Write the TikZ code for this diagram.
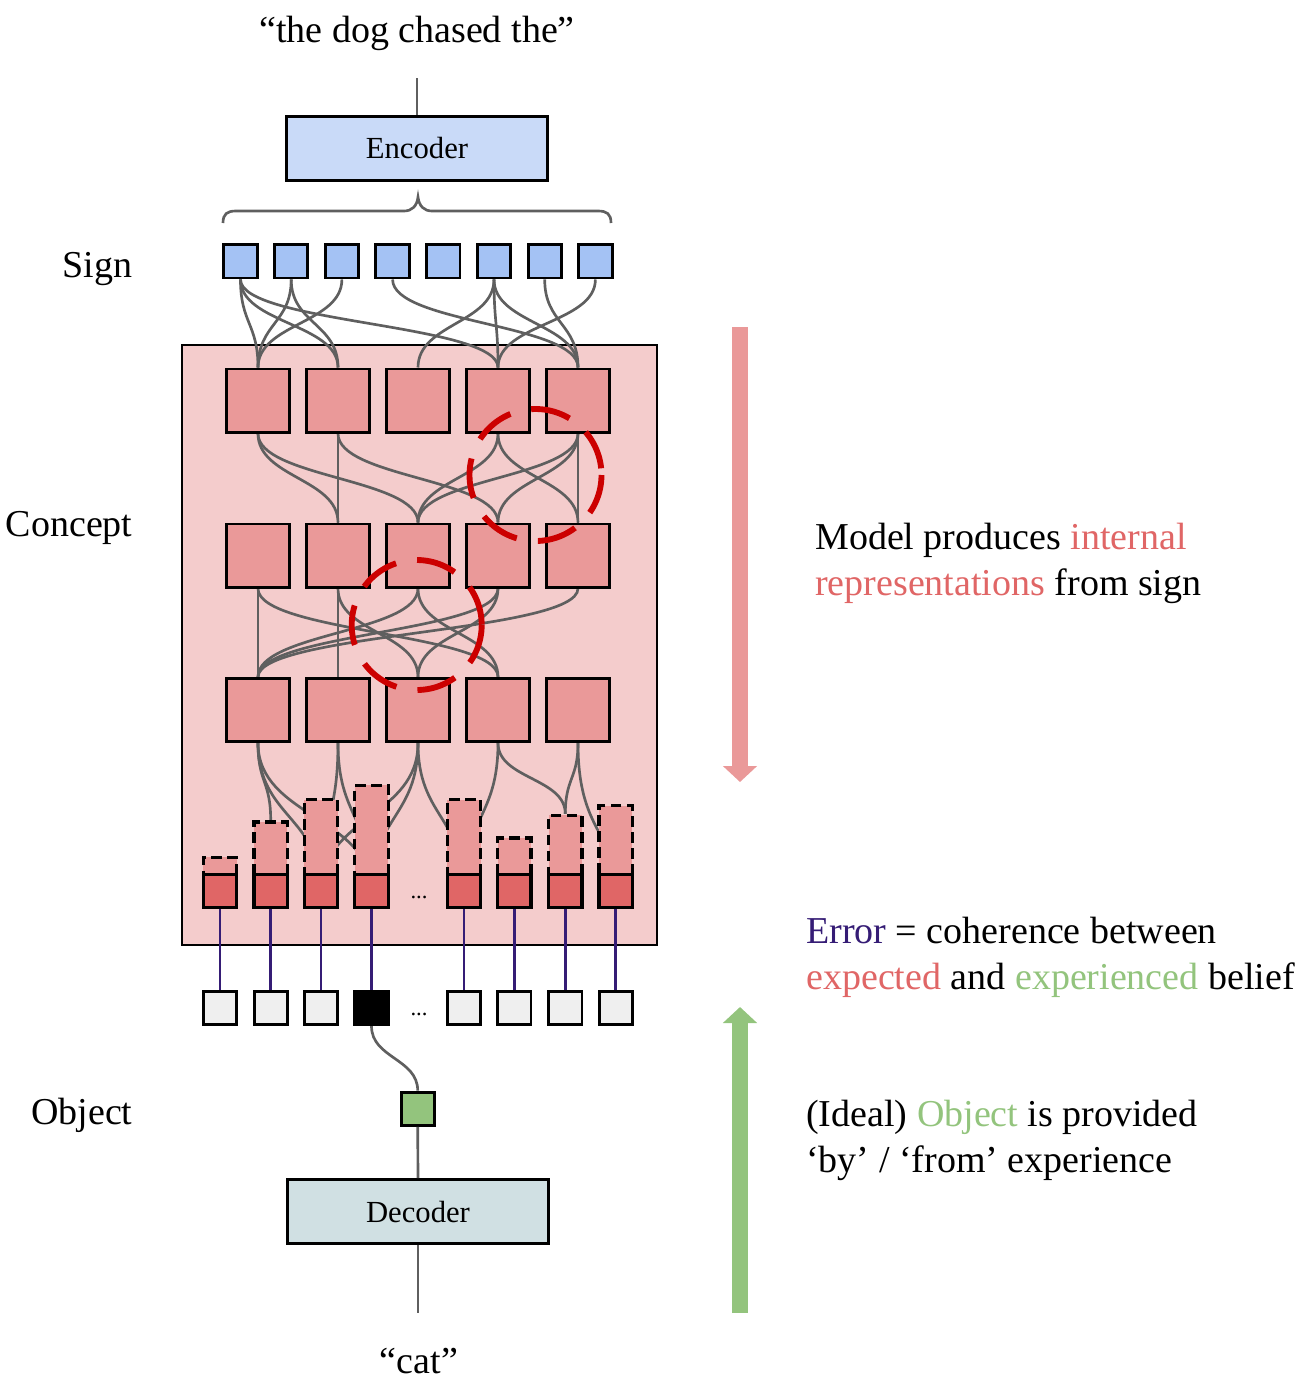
\documentclass[tikz,border=0pt]{standalone}
\usepackage{fontspec}
\setmainfont{Liberation Serif}
\usetikzlibrary{arrows.meta}
\pgfdeclarelayer{back}
\pgfdeclarelayer{mid}
\pgfsetlayers{back,mid,main}

\definecolor{signblue}{HTML}{A4C2F4}
\definecolor{encblue}{HTML}{C9DAF8}
\definecolor{decgray}{HTML}{D0E0E3}
\definecolor{conceptbg}{HTML}{F4CCCC}
\definecolor{conceptred}{HTML}{EA9999}
\definecolor{beliefred}{HTML}{E06666}
\definecolor{circred}{HTML}{CC0000}
\definecolor{objgreen}{HTML}{93C47D}
\definecolor{errpurple}{HTML}{351C75}
\definecolor{wiregray}{HTML}{5F5F5F}
\definecolor{cellgray}{HTML}{EFEFEF}

\tikzset{every picture/.style={line width=0.75pt},
  wire/.style={draw=wiregray, line width=2pt},
  words/.style={font=\fontsize{28.5}{34}\selectfont, inner sep=0pt},
  sign/.style={draw, line width=2.2pt, fill=signblue, minimum size=25pt, inner sep=0pt},
  concept/.style={draw, line width=2.2pt, fill=conceptred, minimum size=47.3pt, inner sep=0pt},
  expect/.style={draw, line width=2.4pt, dash pattern=on 8pt off 4pt, fill=conceptred, minimum width=25pt, inner sep=0pt, anchor=south},
  belief/.style={draw, line width=2.4pt, fill=beliefred, minimum size=25pt, inner sep=0pt},
  cell/.style={draw, line width=2.2pt, fill=cellgray, minimum size=25pt, inner sep=0pt},
  coder/.style={draw, line width=2.2pt, minimum width=196pt, minimum height=48pt, inner sep=0pt, font=\fontsize{23}{28}\selectfont},
  errline/.style={draw=errpurple, line width=1.9pt},
  focus/.style={draw=circred, line width=4.4pt, dash pattern=on 30pt off 16pt},
  flow/.style={line width=12pt, -{Triangle[width=25pt,length=12pt]}}
}

\begin{document}
\begin{tikzpicture}[x=0.75pt,y=0.75pt,yscale=-1,xscale=1]
\useasboundingbox (0,0) rectangle (1309,1386);

% Text Node
\node[words, anchor=base] (sent) at (417,42) {“the dog chased the”};
\coordinate (sentend) at (417,78);
%Shape: Rectangle
\node[coder, fill=encblue] (enc) at (417,148.5) {Encoder};
\draw[wire] (sentend) -- (enc.north);
%Shape: Brace
\draw[wire] (223,223) .. controls (223,214) and (227,211) .. (236,211) -- (404,211) .. controls (412,211) and (417,206) .. (418,197) .. controls (419,206) and (424,211) .. (432,211) -- (598,211) .. controls (607,211) and (611,214) .. (611,223);

% Text Node
\node[words, anchor=base east] (signlbl) at (133,277) {Sign};
% Text Node
\node[words, anchor=base east] (conceptlbl) at (133,536) {Concept};
% Text Node
\node[words, anchor=base east] (objectlbl) at (133,1124) {Object};

%Shape: Rectangle
\begin{pgfonlayer}{back}
\draw[line width=1.8pt, fill=conceptbg] (182,345) rectangle (657,945);
\end{pgfonlayer}

%Shape: Square (sign)
\node[sign] (s1) at (240.5,261.3) {};
\node[sign] (s2) at (291.2,261.3) {};
\node[sign] (s3) at (341.9,261.3) {};
\node[sign] (s4) at (392.6,261.3) {};
\node[sign] (s5) at (443.3,261.3) {};
\node[sign] (s6) at (494,261.3) {};
\node[sign] (s7) at (544.7,261.3) {};
\node[sign] (s8) at (595.4,261.3) {};

%Shape: Square (concept)
\node[concept] (c11) at (258,400.5) {};
\node[concept] (c12) at (338,400.5) {};
\node[concept] (c13) at (418,400.5) {};
\node[concept] (c14) at (498,400.5) {};
\node[concept] (c15) at (578,400.5) {};
\node[concept] (c21) at (258,555.5) {};
\node[concept] (c22) at (338,555.5) {};
\node[concept] (c23) at (418,555.5) {};
\node[concept] (c24) at (498,555.5) {};
\node[concept] (c25) at (578,555.5) {};
\node[concept] (c31) at (258,710) {};
\node[concept] (c32) at (338,710) {};
\node[concept] (c33) at (418,710) {};
\node[concept] (c34) at (498,710) {};
\node[concept] (c35) at (578,710) {};

%Shape: Bar (expected, dashed)
\node[expect, minimum height=24pt] (e1) at (220,891) {};
\node[expect, minimum height=50.5pt] (e2) at (270.7,891) {};
\node[expect, minimum height=67.3pt] (e3) at (321,891) {};
\node[expect, minimum height=78pt] (e4) at (371.5,891) {};
\node[expect, minimum height=67.3pt] (e5) at (464,891) {};
\node[expect, minimum height=38.5pt] (e6) at (514.3,891) {};
\node[expect, minimum height=55.5pt] (e7) at (565.3,891) {};
\node[expect, minimum height=62.8pt] (e8) at (615.7,891) {};
%Shape: Bar (belief)
\node[belief] (b1) at (220,891) {};
\node[belief] (b2) at (270.7,891) {};
\node[belief] (b3) at (321,891) {};
\node[belief] (b4) at (371.5,891) {};
\node[belief] (b5) at (464,891) {};
\node[belief] (b6) at (514.3,891) {};
\node[belief] (b7) at (565.3,891) {};
\node[belief] (b8) at (615.7,891) {};
% Text Node
\node[font=\fontsize{17}{20}\selectfont, inner sep=0pt, anchor=base] (dots1) at (419,898) {...};

%Shape: Square (experience)
\node[cell] (g1) at (220,1008) {};
\node[cell] (g2) at (270.7,1008) {};
\node[cell] (g3) at (321,1008) {};
\node[cell, fill=black] (g4) at (371.5,1008) {};
\node[cell] (g5) at (464,1008) {};
\node[cell] (g6) at (514.3,1008) {};
\node[cell] (g7) at (565.3,1008) {};
\node[cell] (g8) at (615.7,1008) {};
% Text Node
\node[font=\fontsize{17}{20}\selectfont, inner sep=0pt, anchor=base] (dots2) at (419,1015) {...};

%Shape: Square (object)
\node[sign, fill=objgreen] (obj) at (417.7,1108.7) {};
%Shape: Rectangle
\node[coder, fill=decgray] (dec) at (418,1211.5) {Decoder};
\coordinate (catend) at (418,1313);
% Text Node
\node[words, anchor=base] (cat) at (419,1373) {“cat”};

\begin{pgfonlayer}{mid}
%Curved Lines: sign -> concept
\draw[wire] (s1.south) .. controls +(0,44) and +(0,-44) .. (c11.north);
\draw[wire] (s1.south) .. controls +(0,44) and +(0,-44) .. (c12.north);
\draw[wire] (s1.south) .. controls +(0,44) and +(0,-44) .. (c14.north);
\draw[wire] (s2.south) .. controls +(0,44) and +(0,-44) .. (c11.north);
\draw[wire] (s2.south) .. controls +(0,44) and +(0,-44) .. (c12.north);
\draw[wire] (s3.south) .. controls +(0,44) and +(0,-44) .. (c11.north);
\draw[wire] (s4.south) .. controls +(0,44) and +(0,-44) .. (c15.north);
\draw[wire] (s6.south) .. controls +(0,44) and +(0,-44) .. (c13.north);
\draw[wire] (s6.south) .. controls +(0,44) and +(0,-44) .. (c14.north);
\draw[wire] (s6.south) .. controls +(0,44) and +(0,-44) .. (c15.north);
\draw[wire] (s7.south) .. controls +(0,44) and +(0,-44) .. (c15.north);
\draw[wire] (s8.south) .. controls +(0,44) and +(0,-44) .. (c14.north);
%Curved Lines: concept row 1 -> row 2
\draw[wire] (c11.south) .. controls +(0,44) and +(0,-44) .. (c22.north);
\draw[wire] (c11.south) .. controls +(0,44) and +(0,-44) .. (c23.north);
\draw[wire] (c12.south) -- (c22.north);
\draw[wire] (c12.south) .. controls +(0,44) and +(0,-44) .. (c24.north);
\draw[wire] (c14.south) .. controls +(0,44) and +(0,-44) .. (c23.north);
\draw[wire] (c14.south) .. controls +(0,44) and +(0,-44) .. (c25.north);
\draw[wire] (c15.south) .. controls +(0,44) and +(0,-44) .. (c23.north);
\draw[wire] (c15.south) .. controls +(0,44) and +(0,-44) .. (c24.north);
\draw[wire] (c15.south) -- (c25.north);
%Curved Lines: concept row 2 -> row 3
\draw[wire] (c21.south) -- (c31.north);
\draw[wire] (c21.south) .. controls +(0,44) and +(0,-44) .. (c34.north);
\draw[wire] (c22.south) -- (c32.north);
\draw[wire] (c22.south) .. controls +(0,44) and +(0,-44) .. (c33.north);
\draw[wire] (c23.south) .. controls +(0,44) and +(0,-44) .. (c31.north);
\draw[wire] (c23.south) .. controls +(0,44) and +(0,-44) .. (c34.north);
\draw[wire] (c24.south) .. controls +(0,44) and +(0,-44) .. (c31.north);
\draw[wire] (c24.south) .. controls +(0,44) and +(0,-44) .. (c33.north);
\draw[wire] (c25.south) .. controls +(0,44) and +(0,-44) .. (c31.north);
%Curved Lines: concept row 3 -> bars
\draw[wire] (c31.south) .. controls +(0,40) and +(0,-40) .. (e2.north);
\draw[wire] (c31.south) .. controls +(0,74) and +(0,-74) .. (b3.center);
\draw[wire] (c31.south) .. controls +(0,74) and +(0,-74) .. (b4.center);
\draw[wire] (c32.south) .. controls +(0,74) and +(0,-74) .. (b3.center);
\draw[wire] (c32.south) .. controls +(0,74) and +(0,-74) .. (b4.center);
\draw[wire] (c33.south) .. controls +(0,74) and +(0,-74) .. (b3.center);
\draw[wire] (c33.south) .. controls +(0,74) and +(0,-74) .. (b4.center);
\draw[wire] (c33.south) .. controls +(0,74) and +(0,-74) .. (b5.center);
\draw[wire] (c34.south) .. controls +(0,74) and +(0,-74) .. (b5.center);
\draw[wire] (c34.south) .. controls +(0,36) and +(0,-36) .. (e7.north);
\draw[wire] (c35.south) .. controls +(0,36) and +(0,-36) .. (e7.north);
\draw[wire] (c35.south) .. controls +(0,90) and +(0,-60) .. (b8.center);
\end{pgfonlayer}

%Straight Lines: error
\draw[errline] (b1.south) -- (g1.north);
\draw[errline] (b2.south) -- (g2.north);
\draw[errline] (b3.south) -- (g3.north);
\draw[errline] (b4.south) -- (g4.north);
\draw[errline] (b5.south) -- (g5.north);
\draw[errline] (b6.south) -- (g6.north);
\draw[errline] (b7.south) -- (g7.north);
\draw[errline] (b8.south) -- (g8.north);

%Curved Lines: object
\draw[wire] (g4.south) .. controls +(0,32) and +(0,-32) .. (obj.north);
\draw[wire] (obj.south) -- (dec.north);
\draw[wire] (dec.south) -- (catend);

%Shape: Circle
\draw[focus] (535.5,475) circle (66);
%Shape: Circle
\draw[focus] (416.7,625) circle (65);

%Shape: Arrow
\coordinate (downtop) at (740,327);
\coordinate (downtip) at (740,782);
\draw[flow, draw=conceptred] (downtop) -- (downtip);
%Shape: Arrow
\coordinate (uptail) at (740,1313);
\coordinate (uptip) at (740,1007);
\draw[flow, draw=objgreen] (uptail) -- (uptip);

% Text Node
\node[words, anchor=base west] (model1) at (815,549) {Model produces \textcolor{beliefred}{internal}};
% Text Node
\node[words, anchor=base west] (model2) at (815,595) {\textcolor{beliefred}{representations} from sign};
% Text Node
\node[words, anchor=base west] (err1) at (806,943) {\textcolor{errpurple}{Error} = coherence between};
% Text Node
\node[words, anchor=base west] (err2) at (806,989) {\textcolor{beliefred}{expected} and \textcolor{objgreen}{experienced} belief};
% Text Node
\node[words, anchor=base west] (ideal1) at (806,1126) {(Ideal) \textcolor{objgreen}{Object} is provided};
% Text Node
\node[words, anchor=base west] (ideal2) at (806,1172) {‘by’ / ‘from’ experience};

\end{tikzpicture}
\end{document}
